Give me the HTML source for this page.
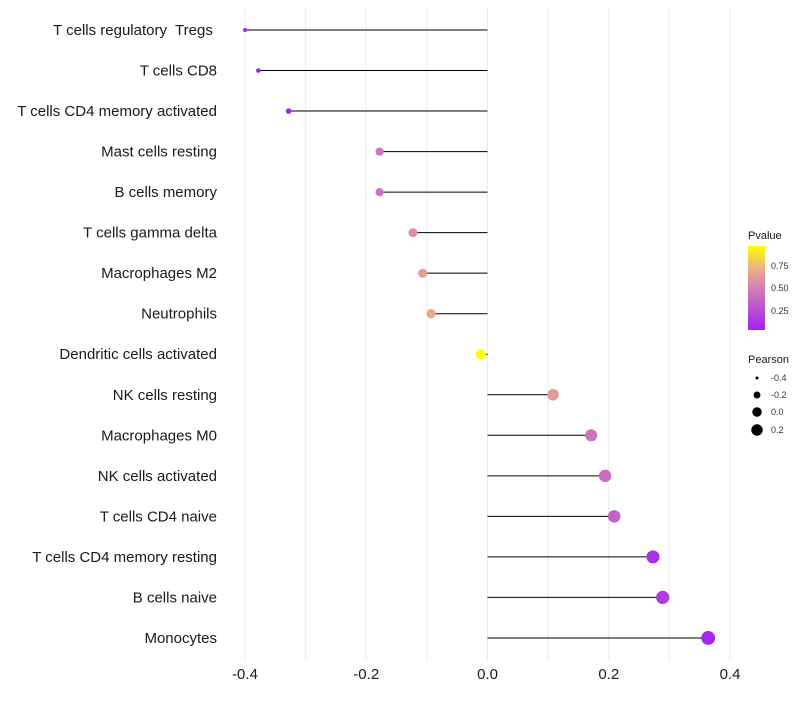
<!DOCTYPE html>
<html><head><meta charset="utf-8"><style>
body{margin:0;background:#fff;font-family:"Liberation Sans",sans-serif}
text{white-space:pre}
</style></head><body>
<svg id="c" width="800" height="700" xmlns="http://www.w3.org/2000/svg"></svg>
<script>
const categories=["T cells regulatory  Tregs ","T cells CD8","T cells CD4 memory activated","Mast cells resting","B cells memory","T cells gamma delta","Macrophages M2","Neutrophils","Dendritic cells activated","NK cells resting","Macrophages M0","NK cells activated","T cells CD4 naive","T cells CD4 memory resting","B cells naive","Monocytes"];
const pearson=[-0.400,-0.378,-0.328,-0.178,-0.178,-0.123,-0.107,-0.093,-0.011,0.108,0.171,0.194,0.209,0.273,0.289,0.364];
const pvalues=[0.02,0.03,0.05,0.45,0.45,0.60,0.66,0.70,1.0,0.64,0.45,0.40,0.36,0.10,0.15,0.05];
const xTicks=[-0.4,-0.2,0.0,0.2,0.4];
const xTickLabels=["-0.4","-0.2","0.0","0.2","0.4"];
const xMinor=[-0.3,-0.1,0.1,0.3];
const svg=document.getElementById('c');
const NS="http://www.w3.org/2000/svg";
const x=v=>487.5+v*606.25;
const y=i=>30+i*40.53;
function mk(t,a){const e=document.createElementNS(NS,t);for(const k in a)e.setAttribute(k,a[k]);svg.appendChild(e);return e;}
function lerp(a,b,t){return a.map((v,i)=>Math.round(v+(b[i]-v)*t));}
function col(p){const s=[[0,[160,32,240]],[0.5,[212,124,182]],[0.75,[238,178,130]],[1,[255,255,0]]];
for(let i=0;i<s.length-1;i++){if(p<=s[i+1][0]){const t=(p-s[i][0])/(s[i+1][0]-s[i][0]);const c=lerp(s[i][1],s[i+1][1],t);return `rgb(${c})`;}}return 'rgb(255,255,0)';}
const rad=v=>Math.sqrt(4+58*Math.max(0,v+0.4));
[...xTicks,...xMinor].forEach(v=>{const g=mk('line',{x1:x(v),x2:x(v),y1:8,y2:660,stroke:'#ebebeb','stroke-width':1});

});
categories.forEach((c,i)=>{const g=mk('line',{x1:x(0),x2:x(pearson[i]),y1:y(i),y2:y(i),stroke:'#000','stroke-width':1});


const d=mk('circle',{cx:x(pearson[i]),cy:y(i),r:rad(pearson[i]),fill:col(pvalues[i])});


const t=mk('text',{x:217,y:y(i)+5,'text-anchor':'end','font-size':15,fill:'#1a1a1a'});t.textContent=c;

});
xTicks.forEach((v,i)=>{const t=mk('text',{x:x(v),y:679,'text-anchor':'middle','font-size':15,fill:'#1a1a1a'});t.textContent=xTickLabels[i];

});
const defs=mk('defs',{});const lg=document.createElementNS(NS,'linearGradient');lg.setAttribute('id','g');lg.setAttribute('x1','0');lg.setAttribute('y1','1');lg.setAttribute('x2','0');lg.setAttribute('y2','0');defs.appendChild(lg);
[0,0.25,0.5,0.75,1].forEach(o=>{const s=document.createElementNS(NS,'stop');s.setAttribute('offset',o);s.setAttribute('stop-color',col(0.02+o*0.98));lg.appendChild(s);});
const lt=mk('text',{x:748,y:239,'font-size':11,fill:'#1a1a1a'});lt.textContent='Pvalue';


const bar=mk('rect',{x:748,y:246,width:17,height:84,fill:'url(#g)'});


[[0.75,266],[0.50,288],[0.25,311]].forEach(([v,yy])=>{const t=mk('text',{x:771,y:yy+3,'font-size':9,fill:'#333'});t.textContent=v.toFixed(2);

});
const pt=mk('text',{x:748,y:363,'font-size':11,fill:'#1a1a1a'});pt.textContent='Pearson';


[[-0.4,378],[-0.2,395],[0.0,412],[0.2,430]].forEach(([v,yy])=>{const c=mk('circle',{cx:757,cy:yy,r:rad(v)-0.5,fill:'#000'});


const t=mk('text',{x:771,y:yy+3,'font-size':9,fill:'#333'});t.textContent=v.toFixed(1);

});
</script>
</body></html>
